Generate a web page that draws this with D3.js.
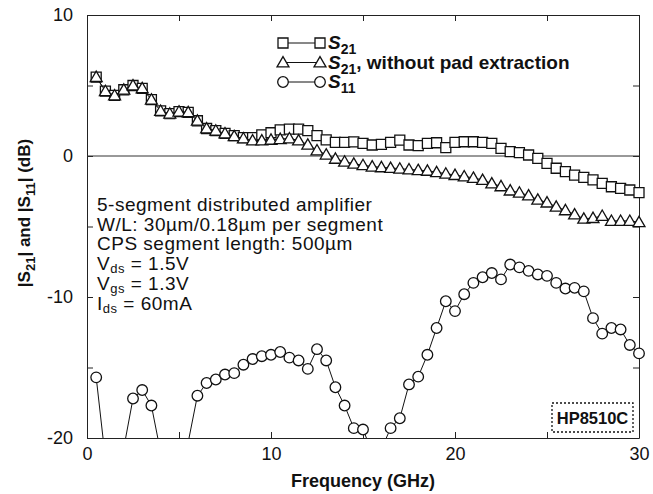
<!DOCTYPE html>
<html>
<head>
<meta charset="utf-8">
<script src="https://cdn.jsdelivr.net/npm/d3@7"></script>
<style>
  body { margin: 0; background: #fff; }
  svg text { font-family: "Liberation Sans", Arial, Helvetica, sans-serif; fill: #111; }
</style>
</head>
<body>
<div id="chart"></div>
<script>
// chart data (frequency in GHz, magnitude in dB)
var freq = [0.5, 1.0, 1.5, 2.0, 2.5, 3.0, 3.5, 4.0, 4.5, 5.0,
            5.5, 6.0, 6.5, 7.0, 7.5, 8.0, 8.5, 9.0, 9.5, 10.0,
            10.5, 11.0, 11.5, 12.0, 12.5, 13.0, 13.5, 14.0, 14.5, 15.0,
            15.5, 16.0, 16.5, 17.0, 17.5, 18.0, 18.5, 19.0, 19.5, 20.0,
            20.5, 21.0, 21.5, 22.0, 22.5, 23.0, 23.5, 24.0, 24.5, 25.0,
            25.5, 26.0, 26.5, 27.0, 27.5, 28.0, 28.5, 29.0, 29.5, 30.0];

var s21 = [5.6, 4.6, 4.3, 4.7, 5.0, 4.8, 4.0, 3.2, 3.0, 3.15,
           3.1, 2.5, 1.95, 1.8, 1.6, 1.45, 1.3, 1.3, 1.5, 1.65,
           1.85, 1.9, 1.9, 1.8, 1.45, 1.15, 0.97, 0.97, 1.0, 0.9,
           0.78, 0.83, 0.97, 1.13, 0.78, 0.73, 0.9, 0.94, 0.59, 0.97,
           1.01, 1.01, 0.97, 0.9, 0.54, 0.31, 0.24, 0.07, -0.17, -0.52,
           -0.87, -1.11, -1.35, -1.51, -1.7, -1.94, -2.18, -2.29, -2.41, -2.6];

var s21NoPad = [5.6, 4.6, 4.3, 4.7, 5.0, 4.8, 4.0, 3.2, 3.0, 3.15,
                3.1, 2.5, 1.95, 1.8, 1.6, 1.4, 1.25, 1.1, 1.1, 1.15,
                1.2, 1.25, 1.1, 0.8, 0.4, 0.1, -0.2, -0.4, -0.55, -0.65,
                -0.75, -0.8, -0.85, -0.9, -0.95, -1.0, -1.05, -1.15, -1.25, -1.35,
                -1.45, -1.55, -1.7, -1.95, -2.15, -2.45, -2.6, -2.8, -3.1, -3.3,
                -3.6, -3.85, -4.15, -4.45, -4.4, -4.25, -4.6, -4.6, -4.6, -4.7];

// S11 dips below the -20 dB floor in a few places (line runs off the frame)
var s11 = [-15.7, -21.5, -25, -20.7, -17.2, -16.6, -17.7, -21.0, -25, -25,
           -20.3, -17.0, -16.1, -15.85, -15.5, -15.4, -14.8, -14.4, -14.2, -14.1,
           -13.9, -14.3, -14.5, -15.1, -13.7, -14.5, -16.4, -17.7, -19.3, -19.4,
           -21, -20.8, -19.3, -18.6, -16.2, -15.65, -14.1, -12.2, -10.3, -11.0,
           -9.8, -9.0, -8.6, -8.3, -8.75, -7.7, -7.9, -8.15, -8.4, -8.5,
           -9.0, -9.4, -9.35, -9.6, -11.5, -12.6, -12.2, -12.3, -13.4, -14.0];

var xTicks = [0, 5, 10, 15, 20, 25, 30];
var yTicks = [-20, -15, -10, -5, 0, 5, 10];

var notes = ["5-segment distributed amplifier",
             "W/L: 30\u00b5m/0.18\u00b5m per segment",
             "CPS segment length: 500\u00b5m"];
var biasLines = [["V", "ds", " = 1.5V"], ["V", "gs", " = 1.3V"], ["I", "ds", " = 60mA"]];

var width = 653, height = 494;
var margin = {top: 15, right: 14, bottom: 56, left: 87};

var svg = d3.select("#chart").append("svg")
    .attr("width", width)
    .attr("height", height);

var x = d3.scaleLinear().domain([0, 30]).range([margin.left, width - margin.right]);
var y = d3.scaleLinear().domain([-20, 10]).range([height - margin.bottom, margin.top]);

svg.append("defs").append("clipPath").attr("id", "plotclip")
  .append("rect")
    .attr("x", x(0)).attr("y", y(10))
    .attr("width", x(30) - x(0)).attr("height", y(-20) - y(10));

// axes with inward ticks
var bottomAxis = d3.axisBottom(x).tickValues(xTicks).tickSize(-6).tickSizeOuter(0).tickPadding(9)
    .tickFormat(function(d) { return d % 10 == 0 ? d : ""; });
var leftAxis = d3.axisLeft(y).tickValues(yTicks).tickSize(-6).tickSizeOuter(0).tickPadding(14)
    .tickFormat(function(d) { return d % 10 == 0 ? d : ""; });

svg.append("g").attr("transform", "translate(0," + y(-20) + ")").call(bottomAxis);
svg.append("g").attr("transform", "translate(" + x(0) + ",0)").call(leftAxis);
svg.append("g").attr("transform", "translate(0," + y(10) + ")")
    .call(d3.axisTop(x).tickValues(xTicks).tickSize(-6).tickSizeOuter(0).tickFormat(""));
svg.append("g").attr("transform", "translate(" + x(30) + ",0)")
    .call(d3.axisRight(y).tickValues(yTicks).tickSize(-6).tickSizeOuter(0).tickFormat(""));

svg.selectAll(".domain").attr("stroke", "#222");
svg.selectAll(".tick line").attr("stroke", "#222");
svg.selectAll(".tick text")
    .style("font-size", "18px")
    .style("font-family", "\"Liberation Sans\", Arial, sans-serif")
    .attr("fill", "#111");

// zero reference line
svg.append("line")
    .attr("x1", x(0)).attr("x2", x(30))
    .attr("y1", y(0)).attr("y2", y(0))
    .attr("stroke", "#333").attr("stroke-width", 1);

// axis titles
svg.append("text")
    .attr("x", (x(0) + x(30)) / 2)
    .attr("y", 487)
    .attr("text-anchor", "middle")
    .style("font-size", "18px")
    .style("font-weight", "bold")
    .text("Frequency (GHz)");

var ylab = svg.append("text")
    .attr("transform", "translate(30,213) rotate(-90)")
    .attr("text-anchor", "middle")
    .style("font-size", "17px")
    .style("font-weight", "bold");
ylab.append("tspan").text("|S");
ylab.append("tspan").attr("dy", 5).style("font-size", "13px").text("21");
ylab.append("tspan").attr("dy", -5).text("| and |S");
ylab.append("tspan").attr("dy", 5).style("font-size", "13px").text("11");
ylab.append("tspan").attr("dy", -5).text("| (dB)");

// marker shapes
var sqSym = d3.symbol().type(d3.symbolSquare).size(100);
var triSym = d3.symbol().type(d3.symbolTriangle).size(62);

function drawSeries(values, kind, markerFilter) {
  var pts = freq.map(function(f, i) { return {f: f, v: values[i]}; });
  var line = d3.line().x(function(d) { return x(d.f); }).y(function(d) { return y(d.v); });
  svg.append("path")
      .datum(pts)
      .attr("clip-path", "url(#plotclip)")
      .attr("d", line)
      .attr("fill", "none")
      .attr("stroke", "#111")
      .attr("stroke-width", 1);
  var shown = pts.filter(markerFilter || function() { return true; });
  var g = svg.append("g");
  if (kind == "circle") {
    g.selectAll("circle").data(shown).enter().append("circle")
        .attr("cx", function(d) { return x(d.f); })
        .attr("cy", function(d) { return y(d.v); })
        .attr("r", 5.3)
        .attr("fill", "#fff").attr("stroke", "#111").attr("stroke-width", 1.3);
  } else {
    var sym = kind == "square" ? sqSym : triSym;
    g.selectAll("path").data(shown).enter().append("path")
        .attr("transform", function(d) { return "translate(" + x(d.f) + "," + (y(d.v) + (kind == "triangle" ? 1 : 0)) + ")"; })
        .attr("d", sym)
        .attr("fill", "#fff").attr("stroke", "#111").attr("stroke-width", 1.3);
  }
}

drawSeries(s21, "square");
drawSeries(s21NoPad, "triangle");
drawSeries(s11, "circle", function(d) { return d.v >= -20; });

// legend
var legendRows = [
  {kind: "square", label: ""},
  {kind: "triangle", label: ", without pad extraction"},
  {kind: "circle", label: ""}
];
var legendSub = ["21", "21", "11"];
legendRows.forEach(function(r, i) {
  var ly = 43 + i * 19.5;
  var lx1 = 283, lx2 = 320;
  svg.append("line").attr("x1", lx1).attr("x2", lx2).attr("y1", ly).attr("y2", ly)
      .attr("stroke", "#111").attr("stroke-width", 1);
  [lx1, lx2].forEach(function(lx) {
    if (r.kind == "circle") {
      svg.append("circle").attr("cx", lx).attr("cy", ly).attr("r", 5.3)
          .attr("fill", "#fff").attr("stroke", "#111").attr("stroke-width", 1.3);
    } else {
      svg.append("path")
          .attr("transform", "translate(" + lx + "," + (ly + (r.kind == "triangle" ? 1 : 0)) + ")")
          .attr("d", r.kind == "square" ? sqSym : triSym)
          .attr("fill", "#fff").attr("stroke", "#111").attr("stroke-width", 1.3);
    }
  });
  var t = svg.append("text").attr("x", 328).attr("y", ly + 6)
      .style("font-size", "19px").style("font-weight", "bold");
  t.append("tspan").style("font-style", "italic").text("S");
  t.append("tspan").attr("dy", 5).style("font-size", "14px").text(legendSub[i]);
  if (r.label) t.append("tspan").attr("dy", -5).text(r.label);
});

// device notes
notes.forEach(function(s, i) {
  svg.append("text").attr("x", 97).attr("y", 211 + i * 19.6)
      .style("font-size", "19px").style("letter-spacing", "0.5px").text(s);
});
biasLines.forEach(function(b, i) {
  var t = svg.append("text").attr("x", 97).attr("y", 270 + i * 20)
      .style("font-size", "19px").style("letter-spacing", "0.5px");
  t.append("tspan").text(b[0]);
  t.append("tspan").attr("dy", 3).style("font-size", "13px").text(b[1]);
  t.append("tspan").attr("dy", -3).text(b[2]);
});

// instrument tag
svg.append("rect")
    .attr("x", 552).attr("y", 403).attr("width", 81).attr("height", 29)
    .attr("fill", "#fff").attr("stroke", "#111").attr("stroke-width", 1.3)
    .attr("stroke-dasharray", "2,2");
svg.append("text")
    .attr("x", 592.5).attr("y", 423.5)
    .attr("text-anchor", "middle")
    .style("font-size", "16.5px").style("font-weight", "bold")
    .text("HP8510C");
</script>
</body>
</html>
